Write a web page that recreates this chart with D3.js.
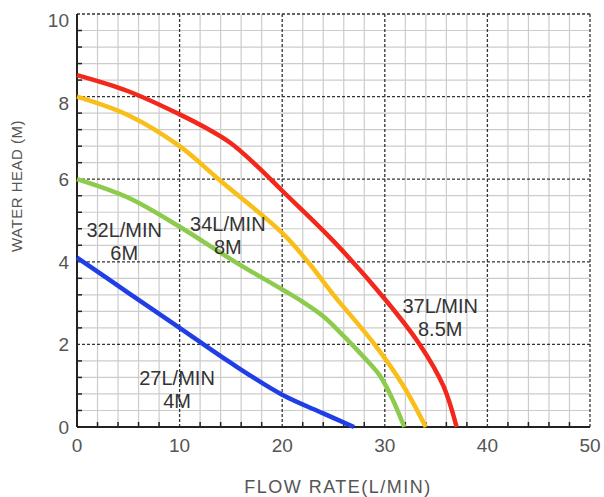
<!DOCTYPE html>
<html lang="en">
    <head>
	<meta charset="utf-8">
	<title>Pump Curves</title>
	<script src="https://cdn.jsdelivr.net/npm/d3@7"></script>
	<style>
	 body { margin: 0; background: #fff; }
	 text { font-family: "Liberation Sans", Arial, sans-serif; }
	</style>
    </head>
    <body>
	<script type="text/javascript">

	 //Curve data, flow rate (L/MIN) vs water head (M)
	 var flow37 = [0, 5, 10, 12.5, 15, 17.5, 20, 25, 30, 33.4, 35.7, 37];
	 var head37 = [8.52, 8.13, 7.57, 7.25, 6.87, 6.33, 5.72, 4.5, 3.1, 2.0, 1.0, 0];
	 var flow34 = [0, 5, 10, 13.8, 20, 22.5, 25, 29, 31.8, 34];
	 var head34 = [8.0, 7.55, 6.8, 6.0, 4.7, 4.0, 3.2, 2.0, 1.0, 0];
	 var flow32 = [0, 5, 10, 15.4, 20, 22, 24, 26, 28, 29.5, 30.8, 31.9];
	 var head32 = [6.0, 5.55, 4.85, 4.0, 3.33, 3.03, 2.68, 2.2, 1.68, 1.25, 0.65, 0];
	 var flow27 = [0, 5, 10, 15, 20, 24, 27];
	 var head27 = [4.1, 3.25, 2.4, 1.55, 0.78, 0.33, 0];

	 var curveColors = ["#f3281c", "#f9be17", "#8dcb4c", "#1f3ee6"];

	 //Label text and anchor (data units)
	 var labelLines = [["37L/MIN", "8.5M"], ["34L/MIN", "8M"], ["32L/MIN", "6M"], ["27L/MIN", "4M"]];
	 var labelX = [35.4, 14.7, 4.6, 9.75];
	 var labelY = [2.77, 4.75, 4.6, 1.02];

	 var xTicks = [0, 10, 20, 30, 40, 50];
	 var yTicks = [0, 2, 4, 6, 8, 10];

	 //Display specifications
	 var margin = {top: 14, right: 14, bottom: 70, left: 77};
	 var width = 604 - margin.left - margin.right;
	 var height = 497 - margin.top - margin.bottom;

	 var svg = d3.select("body")
		     .append("svg")
		     .attr("width", width + margin.left + margin.right)
		     .attr("height", height + margin.top + margin.bottom)
		     .append("g")
		     .attr("transform", "translate(" + margin.left + "," + margin.top + ")");

	 var xScale = d3.scaleLinear().domain([0, 50]).range([0, width]);
	 var yScale = d3.scaleLinear().domain([0, 10]).range([height, 0]);

	 //Minor grid
	 var xMinor = d3.range(2, 50, 2).filter(function (d) { return d % 10 != 0; });
	 var yMinor = d3.range(0.4, 10, 0.4).filter(function (d) { return Math.abs(d / 2 - Math.round(d / 2)) > 0.01; });

	 svg.selectAll(".vminor")
	    .data(xMinor)
	    .enter()
	    .append("line")
	    .attr("x1", function (d) { return xScale(d); })
	    .attr("x2", function (d) { return xScale(d); })
	    .attr("y1", 0)
	    .attr("y2", height)
	    .style("stroke", "#cccccc")
	    .style("stroke-width", 1.2);

	 svg.selectAll(".hminor")
	    .data(yMinor)
	    .enter()
	    .append("line")
	    .attr("x1", 0)
	    .attr("x2", width)
	    .attr("y1", function (d) { return yScale(d); })
	    .attr("y2", function (d) { return yScale(d); })
	    .style("stroke", "#cccccc")
	    .style("stroke-width", 1.2);

	 //Major dashed grid
	 svg.selectAll(".vmajor")
	    .data(xTicks.slice(1))
	    .enter()
	    .append("line")
	    .attr("x1", function (d) { return xScale(d); })
	    .attr("x2", function (d) { return xScale(d); })
	    .attr("y1", 0)
	    .attr("y2", height)
	    .style("stroke", "#333")
	    .style("stroke-width", 1.3)
	    .style("stroke-dasharray", "3,2");

	 svg.selectAll(".hmajor")
	    .data(yTicks.slice(1))
	    .enter()
	    .append("line")
	    .attr("x1", 0)
	    .attr("x2", width)
	    .attr("y1", function (d) { return yScale(d); })
	    .attr("y2", function (d) { return yScale(d); })
	    .style("stroke", "#333")
	    .style("stroke-width", 1.3)
	    .style("stroke-dasharray", "3,2");

	 //Small inward ticks
	 svg.selectAll(".ytick")
	    .data(yMinor)
	    .enter()
	    .append("line")
	    .attr("x1", 0)
	    .attr("x2", 5)
	    .attr("y1", function (d) { return yScale(d); })
	    .attr("y2", function (d) { return yScale(d); })
	    .style("stroke", "#222")
	    .style("stroke-width", 1.5);

	 svg.selectAll(".xtick")
	    .data(xMinor)
	    .enter()
	    .append("line")
	    .attr("x1", function (d) { return xScale(d); })
	    .attr("x2", function (d) { return xScale(d); })
	    .attr("y1", height)
	    .attr("y2", height - 5)
	    .style("stroke", "#222")
	    .style("stroke-width", 1.5);

	 //Solid left and bottom axes
	 svg.append("line")
	    .attr("x1", 0).attr("x2", 0)
	    .attr("y1", 0).attr("y2", height)
	    .style("stroke", "#222").style("stroke-width", 2);
	 svg.append("line")
	    .attr("x1", 0).attr("x2", width)
	    .attr("y1", height).attr("y2", height)
	    .style("stroke", "#222").style("stroke-width", 2);

	 //Tick labels
	 svg.selectAll(".xlabel")
	    .data(xTicks)
	    .enter()
	    .append("text")
	    .attr("x", function (d) { return xScale(d); })
	    .attr("y", height + 25)
	    .attr("text-anchor", "middle")
	    .style("font-size", "19px")
	    .style("fill", "#555")
	    .text(function (d) { return d; });

	 svg.selectAll(".ylabel")
	    .data(yTicks)
	    .enter()
	    .append("text")
	    .attr("x", -8)
	    .attr("y", function (d) { return yScale(d) + (d >= 8 ? 13 : 7); })
	    .attr("text-anchor", "end")
	    .style("font-size", "19px")
	    .style("fill", "#555")
	    .text(function (d) { return d; });

	 //Axis titles
	 svg.append("text")
	    .attr("x", 261)
	    .attr("y", height + 66)
	    .attr("text-anchor", "middle")
	    .style("font-size", "18px")
	    .style("letter-spacing", "1.5px")
	    .style("fill", "#555")
	    .text("FLOW  RATE(L/MIN)");

	 svg.append("text")
	    .attr("transform", "translate(-55," + 172 + ") rotate(-90)")
	    .attr("text-anchor", "middle")
	    .style("font-size", "15px")
	    .style("letter-spacing", "0.5px")
	    .style("fill", "#555")
	    .text("WATER HEAD (M)");

	 //Curves
	 var series = [[flow37, head37], [flow34, head34], [flow32, head32], [flow27, head27]];

	 var line = d3.line()
		      .x(function (d) { return xScale(d[0]); })
		      .y(function (d) { return yScale(d[1]); })
		      .curve(d3.curveCatmullRom.alpha(0.5));

	 svg.selectAll(".curve")
	    .data(series)
	    .enter()
	    .append("path")
	    .attr("d", function (s) { return line(d3.zip(s[0], s[1])); })
	    .style("fill", "none")
	    .style("stroke", function (s, i) { return curveColors[i]; })
	    .style("stroke-width", 4.5)
	    .style("stroke-linecap", "butt");

	 //Curve labels
	 var labels = svg.selectAll(".clabel")
			 .data(labelLines)
			 .enter()
			 .append("text")
			 .attr("text-anchor", "middle")
			 .style("font-size", "20px")
			 .style("fill", "#333");

	 labels.selectAll("tspan")
	       .data(function (d, i) { return d.map(function (t) { return {t: t, i: i}; }); })
	       .enter()
	       .append("tspan")
	       .attr("x", function (d) { return xScale(labelX[d.i]); })
	       .attr("y", function (d, j) { return yScale(labelY[d.i]) + j * 23; })
	       .text(function (d) { return d.t; });

	</script>
    </body>
</html>
